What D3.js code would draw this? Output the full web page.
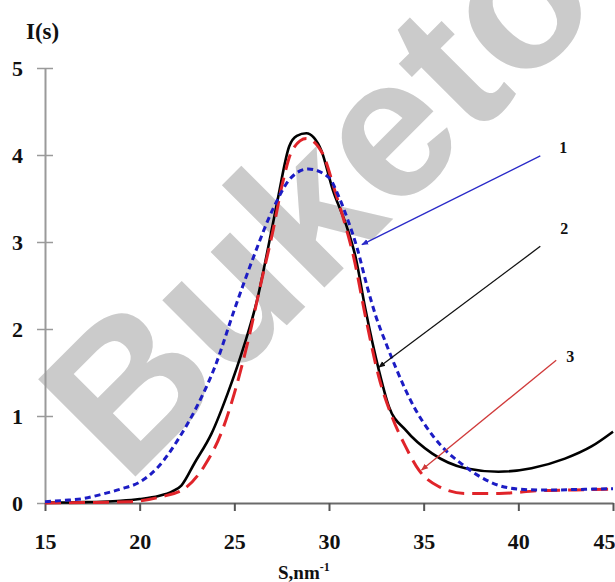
<!DOCTYPE html>
<html>
<head>
<meta charset="utf-8">
<script src="https://cdn.jsdelivr.net/npm/d3@7"></script>
<style>
  html, body { margin: 0; padding: 0; background: #fff; }
  svg { display: block; }
</style>
</head>
<body>
<svg id="chart" width="615" height="582"></svg>
<script>
// curve 1 (blue dotted)
var curve1S = [15, 16, 17, 18, 19, 20, 21, 22, 23, 24, 25, 26, 27, 28, 28.9, 30, 30.5, 31, 31.5, 32, 32.5, 33, 33.5, 34, 34.5, 35, 36, 37, 38, 39, 40, 41, 42, 43, 44, 45];
var curve1I = [0.015, 0.03, 0.05, 0.1, 0.16, 0.24, 0.42, 0.72, 1.1, 1.58, 2.22, 2.82, 3.36, 3.74, 3.84, 3.74, 3.53, 3.25, 2.92, 2.5, 2.13, 1.84, 1.57, 1.32, 1.1, 0.92, 0.64, 0.45, 0.3, 0.2, 0.16, 0.15, 0.15, 0.155, 0.16, 0.165];

// curve 2 (black solid)
var curve2S = [15, 16, 17, 18, 19, 20, 21, 21.7, 22.2, 22.9, 23.8, 24.65, 25.5, 26.2, 26.8, 27.3, 27.9, 28.3, 28.8, 29.2, 29.6, 30.2, 30.9, 31.4, 31.93, 32.63, 33.16, 34.04, 35.44, 37.2, 38.95, 40.7, 42.46, 43.86, 45];
var curve2I = [0.005, 0.005, 0.01, 0.015, 0.025, 0.045, 0.08, 0.13, 0.2, 0.46, 0.8, 1.26, 1.8, 2.33, 2.95, 3.5, 4.1, 4.22, 4.25, 4.2, 4.05, 3.6, 3.2, 2.83, 2.22, 1.53, 1.11, 0.84, 0.57, 0.4, 0.36, 0.4, 0.51, 0.65, 0.82];

// curve 3 (red dashed)
var curve3S = [15, 17, 19.4, 21.1, 22.4, 23.4, 24.3, 25, 25.7, 26.4, 27.05, 27.54, 28.07, 28.8, 29.65, 30.35, 30.88, 31.3, 31.93, 32.63, 33.33, 34.04, 34.74, 35.79, 37.2, 39, 41, 43, 45];
var curve3I = [0.0, 0.005, 0.015, 0.07, 0.17, 0.42, 0.8, 1.26, 1.84, 2.52, 3.14, 3.67, 4.06, 4.19, 4.02, 3.56, 3.18, 2.83, 2.14, 1.45, 0.99, 0.65, 0.38, 0.19, 0.11, 0.11, 0.14, 0.15, 0.16];

var xTicks = [15, 20, 25, 30, 35, 40, 45];
var yTicks = [0, 1, 2, 3, 4, 5];

// annotation labels and their arrows, in data units
var noteLabels = ["1", "2", "3"];
var noteLabelS = [42.37, 42.42, 42.74];
var noteLabelI = [4.09, 3.15, 1.68];
var noteFromS = [41.16, 41.16, 42.0];
var noteFromI = [3.99, 2.95, 1.64];
var noteToS = [31.74, 32.63, 34.89];
var noteToI = [2.97, 1.56, 0.38];
var noteColors = ["#2a2ac8", "#111111", "#d03a3a"];

var svg = d3.select("#chart");
var W = 615, H = 582;

var x = d3.scaleLinear().domain([15, 45]).range([45, 613]);
var y = d3.scaleLinear().domain([0, 5]).range([503, 68]);

svg.append("rect").attr("width", W).attr("height", H).attr("fill", "#fff");

// watermark
svg.append("text")
    .attr("transform", "translate(126,486) rotate(-45)")
    .attr("font-family", "Liberation Sans, Arial, sans-serif")
    .attr("font-weight", "bold")
    .attr("font-size", 200)
    .attr("fill", "#cbcbcb")
    .text("Buketov");

var serif = "Liberation Serif, Times New Roman, serif";

// y axis
var yAxis = svg.append("g")
    .attr("transform", "translate(45,0)")
    .call(d3.axisLeft(y).tickValues(yTicks).tickSize(0).tickSizeOuter(0).tickPadding(22).tickFormat(d3.format("d")));
yAxis.select(".domain").attr("stroke", "#9a9a9a").attr("stroke-width", 2);
yAxis.selectAll(".tick").append("line")
    .attr("x1", -8).attr("x2", function(d){ return d === 0 ? 0 : 8; })
    .attr("stroke", "#9a9a9a").attr("stroke-width", 1.5);
yAxis.selectAll("text")
    .attr("font-family", serif).attr("font-weight", "bold")
    .attr("font-size", 22).attr("fill", "#111");

// x axis
var xAxis = svg.append("g")
    .attr("transform", "translate(0,503)")
    .call(d3.axisBottom(x).tickValues(xTicks).tickSize(8).tickSizeOuter(0).tickPadding(22).tickFormat(d3.format("d")));
xAxis.select(".domain").attr("stroke", "#6a6a6a").attr("stroke-width", 2);
xAxis.selectAll(".tick line").attr("stroke", "#555").attr("stroke-width", 2);
xAxis.selectAll("text")
    .attr("font-family", serif).attr("font-weight", "bold")
    .attr("font-size", 22).attr("fill", "#111")
    .attr("text-anchor", function(d){ return d === 45 ? "end" : "middle"; })
    .attr("dx", function(d){ return d === 45 ? 2 : 0; });

// axis titles
svg.append("text")
    .attr("x", 26).attr("y", 39)
    .attr("font-family", serif).attr("font-weight", "bold")
    .attr("font-size", 23).attr("fill", "#111")
    .text("I(s)");

var xt = svg.append("text")
    .attr("x", 278).attr("y", 579)
    .attr("font-family", serif).attr("font-weight", "bold")
    .attr("font-size", 19).attr("fill", "#111");
xt.append("tspan").text("S,nm");
xt.append("tspan").attr("font-size", 12).attr("dy", -8).text("-1");

// curves
function series(sv, iv){ return sv.map(function(s, i){ return [s, iv[i]]; }); }
var line = d3.line()
    .x(function(d){ return x(d[0]); })
    .y(function(d){ return y(d[1]); })
    .curve(d3.curveMonotoneX);

svg.append("path").datum(series(curve2S, curve2I))
    .attr("d", line).attr("fill", "none")
    .attr("stroke", "#000").attr("stroke-width", 2.6);

svg.append("path").datum(series(curve3S, curve3I))
    .attr("d", line).attr("fill", "none")
    .attr("stroke", "#e0242a").attr("stroke-width", 3)
    .attr("stroke-dasharray", "16,8");

svg.append("path").datum(series(curve1S, curve1I))
    .attr("d", line).attr("fill", "none")
    .attr("stroke", "#1c1cc4").attr("stroke-width", 3)
    .attr("stroke-dasharray", "6,4");

// annotation arrows
var defs = svg.append("defs");
noteColors.forEach(function(c, i){
    defs.append("marker")
        .attr("id", "arr" + i)
        .attr("viewBox", "0 0 10 10")
        .attr("refX", 9).attr("refY", 5)
        .attr("markerWidth", 7).attr("markerHeight", 7)
        .attr("markerUnits", "userSpaceOnUse")
        .attr("orient", "auto")
      .append("path")
        .attr("d", "M0,1 L10,5 L0,9 Z")
        .attr("fill", c);
});

noteLabels.forEach(function(lb, i){
    svg.append("line")
        .attr("x1", x(noteFromS[i])).attr("y1", y(noteFromI[i]))
        .attr("x2", x(noteToS[i])).attr("y2", y(noteToI[i]))
        .attr("stroke", noteColors[i]).attr("stroke-width", 1.3)
        .attr("marker-end", "url(#arr" + i + ")");
    svg.append("text")
        .attr("x", x(noteLabelS[i])).attr("y", y(noteLabelI[i]))
        .attr("text-anchor", "middle").attr("dominant-baseline", "central")
        .attr("font-family", serif).attr("font-weight", "bold")
        .attr("font-size", 16).attr("fill", "#111")
        .text(lb);
});
</script>
</body>
</html>
